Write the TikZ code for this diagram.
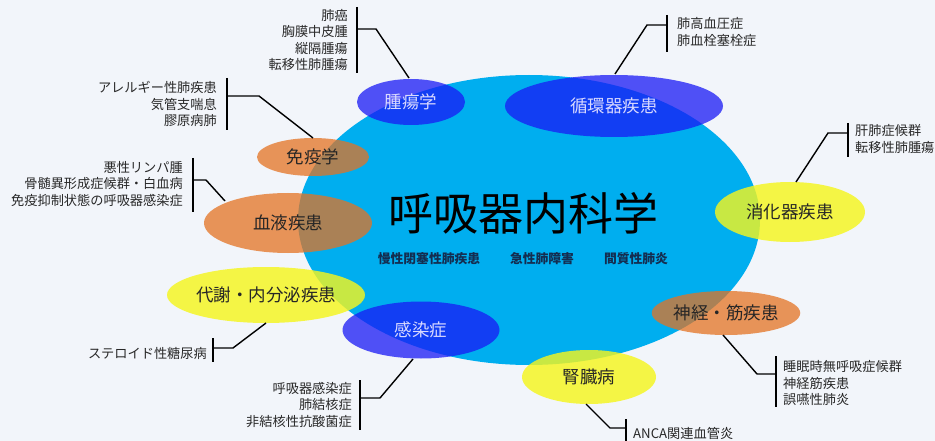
\documentclass[tikz,border=0pt]{standalone}
\usepackage{fontspec}
\newfontfamily\jp{Noto Sans CJK JP}
\usetikzlibrary{shapes.geometric}
\definecolor{bgc}{RGB}{242,245,250}
\definecolor{cyanmain}{RGB}{0,174,239}
\definecolor{bluebub}{RGB}{25,25,245}
\definecolor{orangebub}{RGB}{228,115,35}
\definecolor{yellowbub}{RGB}{245,245,30}
\definecolor{listtext}{RGB}{40,40,40}
\definecolor{subtext}{RGB}{20,45,80}
\tikzset{
  bub/.style={ellipse, inner sep=0pt, font=\jp\fontsize{17.5}{20}\selectfont},
  bluebox/.style={bub, fill=bluebub, fill opacity=0.75, text opacity=1, text=white!85!blue},
  orangebox/.style={bub, fill=orangebub, fill opacity=0.75, text opacity=1, text=black!85},
  yellowbox/.style={bub, fill=yellowbub, fill opacity=0.82, text opacity=1, text=black!85},
  listl/.style={inner sep=0pt, align=right, anchor=east, text=listtext, font=\jp\fontsize{13.2}{16.6}\selectfont},
  listr/.style={inner sep=0pt, align=left, anchor=west, text=listtext, font=\jp\fontsize{13.2}{16.6}\selectfont},
  conn/.style={draw=black, line width=1.4pt},
  sub/.style={text=subtext, font=\jp\bfseries\fontsize{12.8}{15}\selectfont, inner sep=0pt}
}
\begin{document}
\begin{tikzpicture}[x=1pt,y=-1pt]
\useasboundingbox[fill=bgc] (0,0) rectangle (935,441);
% main ellipse
\node[ellipse, fill=cyanmain, minimum width=462pt, minimum height=290pt, inner sep=0pt] (main) at (529,220) {};
\node[inner sep=0pt, font=\jp\fontsize{45}{50}\selectfont] (title) at (523,213) {呼吸器内科学};
\node[sub] (s1) at (429,259) {慢性閉塞性肺疾患};
\node[sub] (s2) at (542,259) {急性肺障害};
\node[sub] (s3) at (636,259) {間質性肺炎};
% bubbles
\node[bluebox, minimum width=108pt, minimum height=46pt] (tumor) at (411,102) {腫瘍学};
\node[bluebox, minimum width=218pt, minimum height=62pt] (circ) at (614,106) {循環器疾患};
\node[bluebox, minimum width=157pt, minimum height=57pt] (infect) at (421,330) {感染症};
\node[orangebox, minimum width=112pt, minimum height=38pt] (immun) at (313,157) {免疫学};
\node[orangebox, minimum width=168pt, minimum height=60pt] (blood) at (288,223) {血液疾患};
\node[orangebox, minimum width=134pt, minimum height=44pt] (neuro) at (726,313) {神経・筋疾患};
\node[yellowbox, minimum width=150pt, minimum height=60pt] (digest) at (790,212) {消化器疾患};
\node[yellowbox, minimum width=163pt, minimum height=56pt] (metab) at (266,295) {代謝・内分泌疾患};
\node[yellowbox, minimum width=134pt, minimum height=54pt] (kidney) at (589,377) {腎臓病};
% lists
\node[listl] (l1) at (348,40) {肺癌\\胸膜中皮腫\\縦隔腫瘍\\転移性肺腫瘍};
\node[listr] (l2) at (677,32) {肺高血圧症\\肺血栓塞栓症};
\node[listl] (l3) at (217,104) {アレルギー性肺疾患\\気管支喘息\\膠原病肺};
\node[listl] (l4) at (183,184) {悪性リンパ腫\\骨髄異形成症候群・白血病\\免疫抑制状態の呼吸器感染症};
\node[listr] (l5) at (855,139) {肝肺症候群\\転移性肺腫瘍};
\node[listl] (l6) at (207,353) {ステロイド性糖尿病};
\node[listl] (l7) at (352,405) {呼吸器感染症\\肺結核症\\非結核性抗酸菌症};
\node[listr] (l8) at (783,383) {睡眠時無呼吸症候群\\神経筋疾患\\誤嚥性肺炎};
\node[listr] (l9) at (633,433) {ANCA関連血管炎};
% bracket coordinates
\coordinate (b1t) at (357,7);  \coordinate (b1b) at (357,73);  \coordinate (b1m) at (357,29); \coordinate (k1) at (376,29);
\coordinate (b2t) at (667,15); \coordinate (b2b) at (667,52);  \coordinate (b2m) at (667,25); \coordinate (k2) at (647,25);
\coordinate (b3t) at (227,78); \coordinate (b3b) at (227,130); \coordinate (b3m) at (227,96); \coordinate (k3) at (259,96);
\coordinate (b4t) at (193,158);\coordinate (b4b) at (193,212); \coordinate (b4m) at (193,180);\coordinate (k4) at (206,180);
\coordinate (b5t) at (848,123);\coordinate (b5b) at (848,157); \coordinate (b5m) at (848,133);\coordinate (k5) at (828,133);
\coordinate (b6t) at (213,338);\coordinate (b6b) at (213,362); \coordinate (b6m) at (213,348);\coordinate (k6) at (233,348);
\coordinate (b7t) at (360,380);\coordinate (b7b) at (360,430); \coordinate (b7m) at (360,398);\coordinate (k7) at (380,398);
\coordinate (b8t) at (776,356);\coordinate (b8b) at (776,407); \coordinate (b8m) at (776,374);\coordinate (k8) at (757,374);
\coordinate (b9t) at (626,419);\coordinate (b9b) at (626,445); \coordinate (b9m) at (626,428);\coordinate (k9) at (610,428);
% end points on bubbles
\coordinate (e1) at (409,78);
\coordinate (e2) at (615,74);
\coordinate (e3) at (313,138);
\coordinate (e4) at (225,201);
\coordinate (e5) at (796,182);
\coordinate (e6) at (266,323);
\coordinate (e7) at (413,359);
\coordinate (e8) at (723,335);
\coordinate (e9) at (586,404);
% connectors
\foreach \i in {1,...,9}{
  \draw[conn] (b\i t) -- (b\i b);
  \draw[conn] (b\i m) -- (k\i) -- (e\i);
}
\end{tikzpicture}
\end{document}
